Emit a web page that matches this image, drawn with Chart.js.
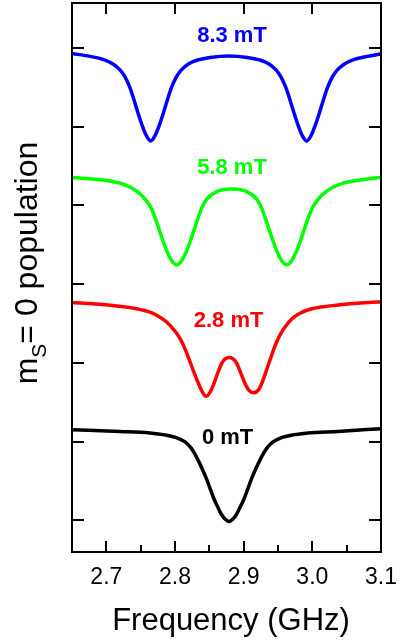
<!DOCTYPE html>
<html>
<head>
<meta charset="utf-8">
<script src="https://cdn.jsdelivr.net/npm/chart.js@4.4.1/dist/chart.umd.min.js"></script>
<style>
  html, body { margin: 0; padding: 0; background: #fff; }
  #wrap { width: 402px; height: 641px; position: relative; }
</style>
</head>
<body>
<div id="wrap"><canvas id="c" width="402" height="641"></canvas></div>
<script>
// ---- data (frequency in GHz, offset population in tick units) ----
const freq83 = [2.65, 2.6762, 2.6951, 2.7097, 2.7199, 2.7272, 2.7345, 2.7403, 2.7461, 2.7519, 2.7578, 2.7646,
  2.7714, 2.7773, 2.7831, 2.7889, 2.7947, 2.8020, 2.8093, 2.8195, 2.8335, 2.8510, 2.8782,
  2.9054, 2.9229, 2.9369, 2.9471, 2.9543, 2.9616, 2.9675, 2.9733, 2.9791, 2.9849, 2.9918,
  2.9986, 3.0044, 3.0103, 3.0161, 3.0219, 3.0292, 3.0365, 3.0467, 3.0612, 3.0802, 3.1];
const pop83  = [5.930, 5.892, 5.854, 5.796, 5.720, 5.631, 5.491, 5.339, 5.174, 5.021, 4.894, 4.818,
  4.894, 5.021, 5.174, 5.339, 5.491, 5.631, 5.720, 5.796, 5.847, 5.879, 5.898,
  5.879, 5.847, 5.796, 5.720, 5.631, 5.491, 5.339, 5.174, 5.021, 4.894, 4.818,
  4.894, 5.021, 5.174, 5.339, 5.491, 5.631, 5.720, 5.796, 5.854, 5.892, 5.923];

const freq58 = [2.65, 2.6956, 2.7247, 2.7442, 2.7588, 2.7661, 2.7733, 2.7806, 2.7879, 2.7952, 2.8025,
  2.8097, 2.8170, 2.8243, 2.8316, 2.8389, 2.8462, 2.8607, 2.8826,
  2.9044, 2.9190, 2.9262, 2.9335, 2.9408, 2.9481, 2.9554, 2.9627,
  2.9699, 2.9772, 2.9845, 2.9918, 2.9991, 3.0063, 3.0209, 3.0404, 3.0695, 3.1];
const pop58  = [4.356, 4.322, 4.271, 4.182, 4.055, 3.953, 3.788, 3.597, 3.426, 3.299, 3.248,
  3.299, 3.426, 3.597, 3.788, 3.966, 4.080, 4.176, 4.207,
  4.176, 4.080, 3.966, 3.788, 3.597, 3.426, 3.299, 3.248,
  3.299, 3.426, 3.597, 3.788, 3.953, 4.055, 4.182, 4.271, 4.322, 4.356];

const freq28 = [2.65, 2.7053, 2.7442, 2.7636, 2.7781, 2.7883, 2.7971, 2.8044, 2.8116, 2.8189, 2.8262, 2.8335, 2.8393, 2.8451,
  2.8510, 2.8568, 2.8626, 2.8684, 2.8735, 2.8791,
  2.8845, 2.8895, 2.8954, 2.9012, 2.9077, 2.9150,
  2.9223, 2.9281, 2.9347, 2.9412, 2.9478, 2.9543, 2.9616, 2.9704, 2.9820, 2.9966, 3.0446, 3.1];
const pop28  = [2.767, 2.733, 2.688, 2.644, 2.580, 2.517, 2.434, 2.352, 2.237, 2.085, 1.913, 1.754, 1.640, 1.576,
  1.627, 1.741, 1.881, 2.002, 2.053, 2.068,
  2.053, 2.002, 1.881, 1.754, 1.652, 1.621,
  1.665, 1.780, 1.945, 2.110, 2.263, 2.377, 2.472, 2.561, 2.631, 2.682, 2.742, 2.777];

const freq0 = [2.65, 2.7199, 2.7636, 2.7854, 2.8029, 2.8146, 2.8233, 2.8284, 2.8338, 2.8400, 2.8459, 2.8510, 2.8568, 2.8626, 2.8677, 2.8728, 2.8786,
  2.8845, 2.8895, 2.8946, 2.9005, 2.9063, 2.9114, 2.9172, 2.9235, 2.9289, 2.9340, 2.9427, 2.9543, 2.9718, 2.9937, 3.0374, 3.1];
const pop0  = [1.153, 1.131, 1.112, 1.087, 1.049, 0.998, 0.922, 0.852, 0.763, 0.648, 0.528, 0.407, 0.273, 0.165, 0.076, 0.019, -0.013,
  0.019, 0.076, 0.165, 0.273, 0.407, 0.528, 0.648, 0.763, 0.852, 0.922, 0.998, 1.049, 1.087, 1.112, 1.131, 1.166];

const fieldLabels = ['8.3 mT', '5.8 mT', '2.8 mT', '0 mT'];
const seriesColors = ['#0000ff', '#00ff00', '#ff0000', '#000000'];
const labelFreq = [2.883, 2.883, 2.878, 2.8766];
const labelPop  = [6.146, 4.481, 2.536, 1.049];

const xTickStep = 0.05;
const yTickStep = 1;

function pts(xs, ys) { return xs.map((x, i) => ({ x: x, y: ys[i] })); }

const series = [pts(freq83, pop83), pts(freq58, pop58), pts(freq28, pop28), pts(freq0, pop0)];

const FONT = '"Liberation Sans", Arial, Helvetica, sans-serif';

const decorPlugin = {
  id: 'decor',
  afterDraw(chart) {
    const ctx = chart.ctx;
    const a = chart.chartArea;
    const xs = chart.scales.x, ys = chart.scales.y;
    ctx.save();
    ctx.strokeStyle = '#000';
    ctx.lineWidth = 2;
    // frame
    ctx.strokeRect(a.left, a.top, a.right - a.left, a.bottom - a.top);
    // x ticks (inward)
    xs.ticks.forEach(t => {
      const v = t.value;
      const major = Math.abs(v * 10 - Math.round(v * 10)) < 1e-6;
      const px = Math.round(xs.getPixelForValue(v));
      if (px <= a.left + 1 || px >= a.right - 1) return;
      ctx.beginPath();
      ctx.moveTo(px, a.bottom);
      ctx.lineTo(px, a.bottom - (major ? 11 : 7));
      ctx.stroke();
      if (major) {
        ctx.beginPath();
        ctx.moveTo(px, a.top);
        ctx.lineTo(px, a.top + 11);
        ctx.stroke();
      }
    });
    // y ticks (inward, both sides)
    ys.ticks.forEach(t => {
      const v = t.value;
      if (Math.abs(v - Math.round(v)) > 1e-6) return;
      const py = Math.round(ys.getPixelForValue(v));
      if (py <= a.top + 1 || py >= a.bottom - 1) return;
      ctx.beginPath();
      ctx.moveTo(a.left, py); ctx.lineTo(a.left + 12, py);
      ctx.moveTo(a.right, py); ctx.lineTo(a.right - 12, py);
      ctx.stroke();
    });
    // field labels
    ctx.textAlign = 'center';
    ctx.textBaseline = 'middle';
    ctx.font = 'bold 22px ' + FONT;
    fieldLabels.forEach((txt, i) => {
      ctx.fillStyle = seriesColors[i];
      ctx.fillText(txt, xs.getPixelForValue(labelFreq[i]), ys.getPixelForValue(labelPop[i]));
    });
    // x title
    ctx.fillStyle = '#000';
    ctx.font = '31px ' + FONT;
    ctx.textAlign = 'center';
    ctx.textBaseline = 'alphabetic';
    ctx.fillText('Frequency (GHz)', 231, 630);
    // y title with subscript
    const mainFont = '32px ' + FONT, subFont = '21px ' + FONT;
    const parts = [
      { t: 'm', f: mainFont, dy: 0 },
      { t: 'S', f: subFont, dy: 9 },
      { t: '= 0 population', f: mainFont, dy: 0 }
    ];
    let total = 0;
    parts.forEach(p => { ctx.font = p.f; p.w = ctx.measureText(p.t).width; total += p.w; });
    ctx.translate(37, 263);
    ctx.rotate(-Math.PI / 2);
    ctx.textAlign = 'left';
    let cx = -total / 2;
    parts.forEach(p => {
      ctx.font = p.f;
      ctx.fillText(p.t, cx, p.dy);
      cx += p.w;
    });
    ctx.restore();
  }
};

new Chart(document.getElementById('c'), {
  type: 'line',
  data: {
    datasets: series.map((d, i) => ({
      label: fieldLabels[i],
      data: d,
      borderColor: seriesColors[i],
      borderWidth: 3.5,
      pointRadius: 0,
      fill: false,
      cubicInterpolationMode: 'monotone'
    }))
  },
  options: {
    responsive: false,
    animation: false,
    devicePixelRatio: 1,
    layout: { padding: { left: 72, right: 21, top: 3, bottom: 0 } },
    plugins: { legend: { display: false }, tooltip: { enabled: false } },
    scales: {
      x: {
        type: 'linear',
        min: 2.65,
        max: 3.1,
        grid: { display: false, drawTicks: false },
        border: { display: false },
        afterFit(scale) { scale.height = 89; scale.paddingLeft = 0; scale.paddingRight = 0; },
        ticks: {
          stepSize: xTickStep,
          autoSkip: false,
          maxRotation: 0,
          padding: 12,
          color: '#000',
          font: { family: FONT, size: 23 },
          callback(v) {
            return Math.abs(v * 10 - Math.round(v * 10)) < 1e-6 && v > 2.66 ? v.toFixed(1) : '';
          }
        }
      },
      y: {
        type: 'linear',
        display: false,
        min: -0.4,
        max: 6.57,
        ticks: { stepSize: yTickStep }
      }
    }
  },
  plugins: [decorPlugin]
});
</script>
</body>
</html>
